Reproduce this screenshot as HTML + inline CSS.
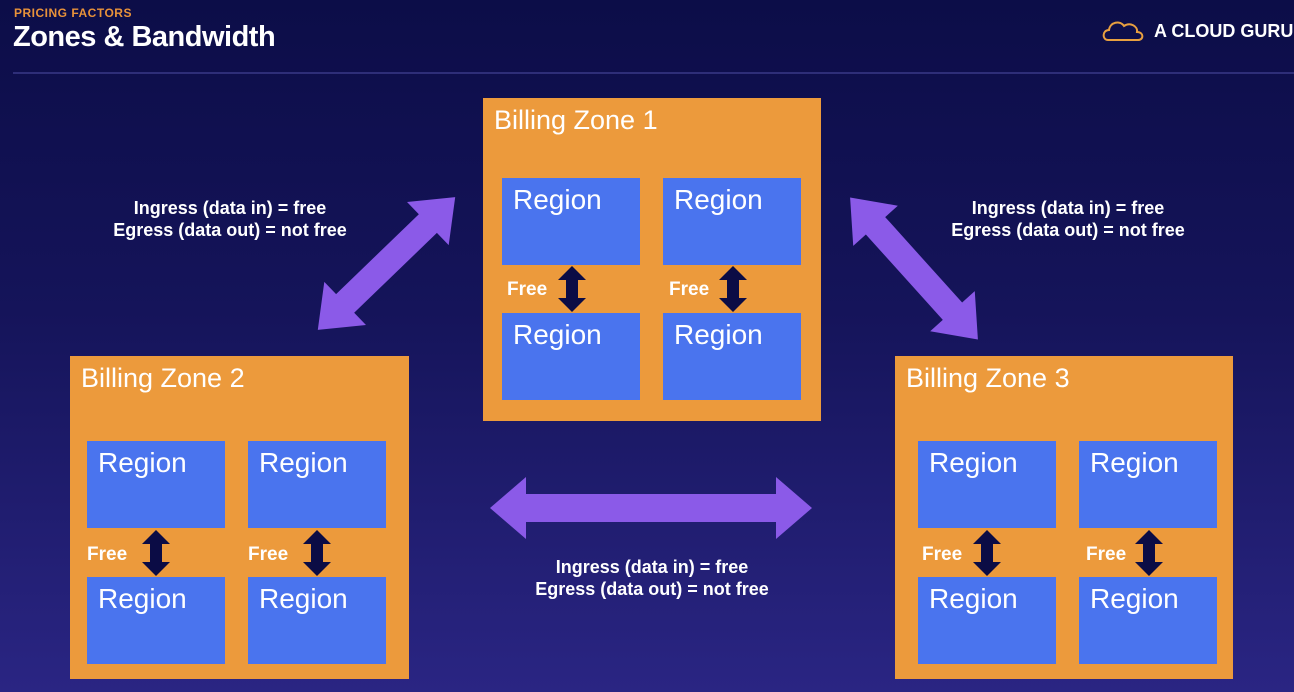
<!DOCTYPE html>
<html><head><meta charset="utf-8"><style>
html,body{margin:0;padding:0;width:1294px;height:692px;overflow:hidden}
body{background:linear-gradient(180deg,#0c0d48 0%,#15145a 45%,#2a2583 100%);font-family:"Liberation Sans",sans-serif}
svg{display:block}
</style></head><body>
<svg width="1294" height="692" viewBox="0 0 1294 692" xmlns="http://www.w3.org/2000/svg" font-family="Liberation Sans, sans-serif">
<defs>
<polygon id="sa" points="-23,0 -9,-14 -9,-6 9,-6 9,-14 23,0 9,14 9,6 -9,6 -9,14" fill="#0b0c45"/>
</defs>
<text x="14" y="17" fill="#e8923a" font-size="12" font-weight="bold" letter-spacing="0.5">PRICING FACTORS</text>
<text x="13" y="46" fill="#fff" font-size="29" font-weight="bold" letter-spacing="-0.5">Zones &amp; Bandwidth</text>
<line x1="13" y1="73" x2="1294" y2="73" stroke="#2e2e78" stroke-width="2"/>
<g transform="translate(1102,18)" fill="none" stroke="#e8a040" stroke-width="2">
<path d="M6,22 C0,22 0,12 7,12 C8,4 18,2 22,8 C28,4 36,8 35,14 C42,14 42,22 36,22 Z"/>
</g>
<text x="1154" y="37" fill="#fff" font-size="18" font-weight="bold">A CLOUD GURU</text>

<rect x="483" y="98" width="338" height="323" fill="#ec9a3c"/>
<rect x="70" y="356" width="339" height="323" fill="#ec9a3c"/>
<rect x="895" y="356" width="338" height="323" fill="#ec9a3c"/>
<g fill="#fff" font-size="27">
<text x="494" y="129">Billing Zone 1</text>
<text x="81" y="387">Billing Zone 2</text>
<text x="906" y="387">Billing Zone 3</text>
</g>
<g fill="#4a74ee">
<rect x="502" y="178" width="138" height="87"/><rect x="663" y="178" width="138" height="87"/>
<rect x="502" y="313" width="138" height="87"/><rect x="663" y="313" width="138" height="87"/>
<rect x="87" y="441" width="138" height="87"/><rect x="248" y="441" width="138" height="87"/>
<rect x="87" y="577" width="138" height="87"/><rect x="248" y="577" width="138" height="87"/>
<rect x="918" y="441" width="138" height="87"/><rect x="1079" y="441" width="138" height="87"/>
<rect x="918" y="577" width="138" height="87"/><rect x="1079" y="577" width="138" height="87"/>
</g>
<g fill="#fff" font-size="28">
<text x="513" y="209">Region</text><text x="674" y="209">Region</text>
<text x="513" y="344">Region</text><text x="674" y="344">Region</text>
<text x="98" y="472">Region</text><text x="259" y="472">Region</text>
<text x="98" y="608">Region</text><text x="259" y="608">Region</text>
<text x="929" y="472">Region</text><text x="1090" y="472">Region</text>
<text x="929" y="608">Region</text><text x="1090" y="608">Region</text>
</g>
<g fill="#fff" font-size="19" font-weight="bold">
<text x="507" y="295">Free</text><text x="669" y="295">Free</text>
<text x="87" y="560">Free</text><text x="248" y="560">Free</text>
<text x="922" y="560">Free</text><text x="1086" y="560">Free</text>
</g>
<use href="#sa" transform="translate(572,289) rotate(90)"/>
<use href="#sa" transform="translate(733,289) rotate(90)"/>
<use href="#sa" transform="translate(156,553) rotate(90)"/>
<use href="#sa" transform="translate(317,553) rotate(90)"/>
<use href="#sa" transform="translate(987,553) rotate(90)"/>
<use href="#sa" transform="translate(1149,553) rotate(90)"/>

<g fill="#8b5ae8">
<polygon transform="translate(386.5,263.5) rotate(-44)" points="-95.5,0 -57.5,-30 -57.5,-13 57.5,-13 57.5,-30 95.5,0 57.5,30 57.5,13 -57.5,13 -57.5,30"/>
<polygon transform="translate(914,268.5) rotate(48)" points="-95.5,0 -57.5,-30 -57.5,-13 57.5,-13 57.5,-30 95.5,0 57.5,30 57.5,13 -57.5,13 -57.5,30"/>
<polygon transform="translate(651,508)" points="-161,0 -125,-31 -125,-14 125,-14 125,-31 161,0 125,31 125,14 -125,14 -125,31"/>
</g>
<g fill="#fff" font-size="18" font-weight="bold" text-anchor="middle">
<text x="230" y="214">Ingress (data in) = free</text>
<text x="230" y="236">Egress (data out) = not free</text>
<text x="1068" y="214">Ingress (data in) = free</text>
<text x="1068" y="236">Egress (data out) = not free</text>
<text x="652" y="573">Ingress (data in) = free</text>
<text x="652" y="595">Egress (data out) = not free</text>
</g>
</svg>
</body></html>
